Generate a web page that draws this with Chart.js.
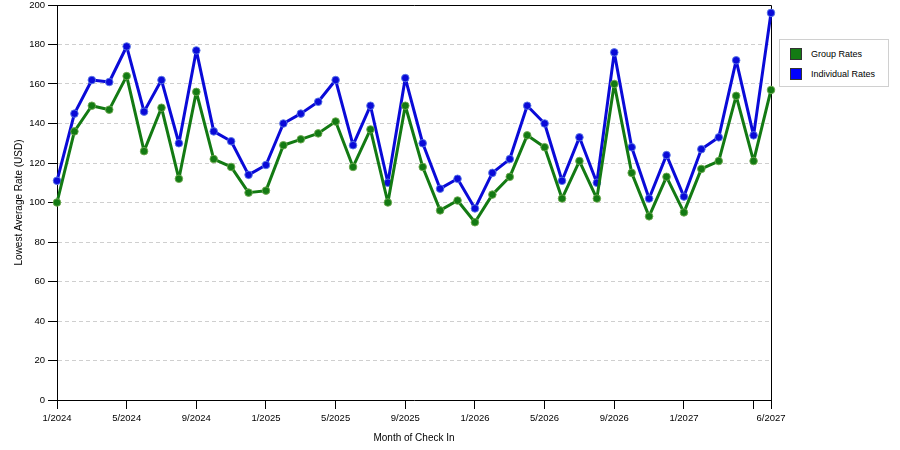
<!DOCTYPE html>
<html>
<head>
<meta charset="utf-8">
<script src="https://cdn.jsdelivr.net/npm/chart.js@4.4.1/dist/chart.umd.min.js"></script>
<style>
  body { margin: 0; background: #fff; font-family: "Liberation Sans", Arial, sans-serif; }
  #wrap { position: relative; width: 900px; height: 450px; }
  #legend {
    position: absolute; left: 779px; top: 39px; width: 110px; height: 48px;
    border: 1px solid #d0d0d0; box-sizing: border-box; background: #fff;
    font-size: 9px; color: #000;
  }
  .item { position: absolute; left: 10px; height: 12px; line-height: 12px; }
  .item span.sw { position: absolute; left: 0; top: 0; width: 12px; height: 12px; border: 1px solid #333; box-sizing: border-box; }
  .item span.tx { position: absolute; left: 21px; top: 0; white-space: nowrap; }
</style>
</head>
<body>
<div id="wrap">
  <canvas id="myChart"></canvas>
  <div id="legend"></div>
</div>
<script>
const months = ['1/2024', '2/2024', '3/2024', '4/2024', '5/2024', '6/2024', '7/2024', '8/2024', '9/2024', '10/2024', '11/2024', '12/2024',
  '1/2025', '2/2025', '3/2025', '4/2025', '5/2025', '6/2025', '7/2025', '8/2025', '9/2025', '10/2025', '11/2025', '12/2025',
  '1/2026', '2/2026', '3/2026', '4/2026', '5/2026', '6/2026', '7/2026', '8/2026', '9/2026', '10/2026', '11/2026', '12/2026',
  '1/2027', '2/2027', '3/2027', '4/2027', '5/2027', '6/2027'];
// months that get a labelled tick, plus 5/2027 which only gets a tick mark
const labelledMonths = ['1/2024', '5/2024', '9/2024', '1/2025', '5/2025', '9/2025', '1/2026', '5/2026', '9/2026', '1/2027', '6/2027'];
const bareTickMonths = ['5/2027'];

const groupRates = [100, 136, 149, 147, 164, 126, 148, 112, 156, 122, 118, 105, 106, 129, 132, 135, 141, 118, 137, 100, 149,
  118, 96, 101, 90, 104, 113, 134, 128, 102, 121, 102, 160, 115, 93, 113, 95, 117, 121, 154, 121, 157];
const individualRates = [111, 145, 162, 161, 179, 146, 162, 130, 177, 136, 131, 114, 119, 140, 145, 151, 162, 129, 149, 110, 163,
  130, 107, 112, 97, 115, 122, 149, 140, 111, 133, 110, 176, 128, 102, 124, 103, 127, 133, 172, 134, 196];

const GREEN = '#137a13';
const BLUE = '#0a0ad8';

// legend
document.getElementById('legend').innerHTML =
  '<div class="item" style="top:8px"><span class="sw" style="background:' + GREEN + '"></span><span class="tx">Group Rates</span></div>' +
  '<div class="item" style="top:28px"><span class="sw" style="background:#0000ff"></span><span class="tx">Individual Rates</span></div>';

// top and right frame of the plot
const framePlugin = {
  id: 'frame',
  beforeDatasetsDraw(chart) {
    const { ctx, chartArea: a } = chart;
    ctx.save();
    ctx.strokeStyle = '#000';
    ctx.lineWidth = 1;
    ctx.beginPath();
    ctx.moveTo(a.left, a.top + 0.5);
    ctx.lineTo(a.right + 0.5, a.top + 0.5);
    ctx.lineTo(a.right + 0.5, a.bottom);
    ctx.stroke();
    ctx.restore();
  }
};

const ctx = document.getElementById('myChart').getContext('2d');
const myChart = new Chart(ctx, {
  type: 'line',
  data: {
    labels: months,
    datasets: [{
        label: 'Group Rates',
        data: groupRates,
        borderColor: GREEN,
        backgroundColor: GREEN,
        borderWidth: 3,
        borderJoinStyle: 'round',
        pointRadius: 3.8,
        pointBorderWidth: 1,
        pointBorderColor: 'rgba(110,170,80,0.9)',
        pointBackgroundColor: GREEN,
        tension: 0,
        clip: false,
      },
      {
        label: 'Individual Rates',
        data: individualRates,
        borderColor: BLUE,
        backgroundColor: BLUE,
        borderWidth: 3,
        borderJoinStyle: 'round',
        pointRadius: 3.8,
        pointBorderWidth: 1,
        pointBorderColor: 'rgba(90,120,230,0.9)',
        pointBackgroundColor: BLUE,
        tension: 0,
        clip: false,
      },
    ],
  },
  options: {
    responsive: true,
    maintainAspectRatio: false,
    animation: false,
    layout: { padding: { top: 0, right: 129, left: 0, bottom: 0 } },
    font: { family: '"Liberation Sans", Arial, sans-serif' },
    plugins: {
      legend: { display: false },
      tooltip: { enabled: false },
    },
    scales: {
      x: {
        offset: false,
        afterFit: function (scale) { scale.height = 50; },
        border: { color: '#000', width: 1 },
        grid: {
          drawOnChartArea: false,
          tickLength: 9,
          tickColor: '#000',
        },
        ticks: {
          autoSkip: false,
          maxRotation: 0,
          padding: 4,
          color: '#000',
          font: { size: 9.5, family: '"Liberation Sans", Arial, sans-serif' },
          callback: function (value, index) {
            const m = months[index];
            if (labelledMonths.includes(m)) return m;
            if (bareTickMonths.includes(m)) return '';
            return null;
          },
        },
        title: {
          display: true,
          text: 'Month of Check In',
          color: '#000',
          padding: { top: 0, bottom: 6 },
          font: { size: 10, family: '"Liberation Sans", Arial, sans-serif' },
        },
      },
      y: {
        min: 0,
        max: 200,
        afterFit: function (scale) { scale.width = 57; scale.paddingTop = 5; },
        border: { color: '#000', width: 1, dash: [4, 3] },
        grid: {
          color: function (c) {
            const v = c.tick ? c.tick.value : 0;
            return (v === 0 || v === 200) ? 'rgba(0,0,0,0)' : '#cfcfcf';
          },
          tickColor: '#000',
          tickLength: 9,
          tickBorderDash: [],
        },
        ticks: {
          stepSize: 20,
          padding: 3,
          color: '#000',
          font: { size: 9.5, family: '"Liberation Sans", Arial, sans-serif' },
        },
        title: {
          display: true,
          text: 'Lowest Average Rate (USD)',
          color: '#000',
          padding: { top: 13, bottom: 0 },
          font: { size: 10, family: '"Liberation Sans", Arial, sans-serif' },
        },
      },
    },
  },
  plugins: [framePlugin],
});
</script>
</body>
</html>
